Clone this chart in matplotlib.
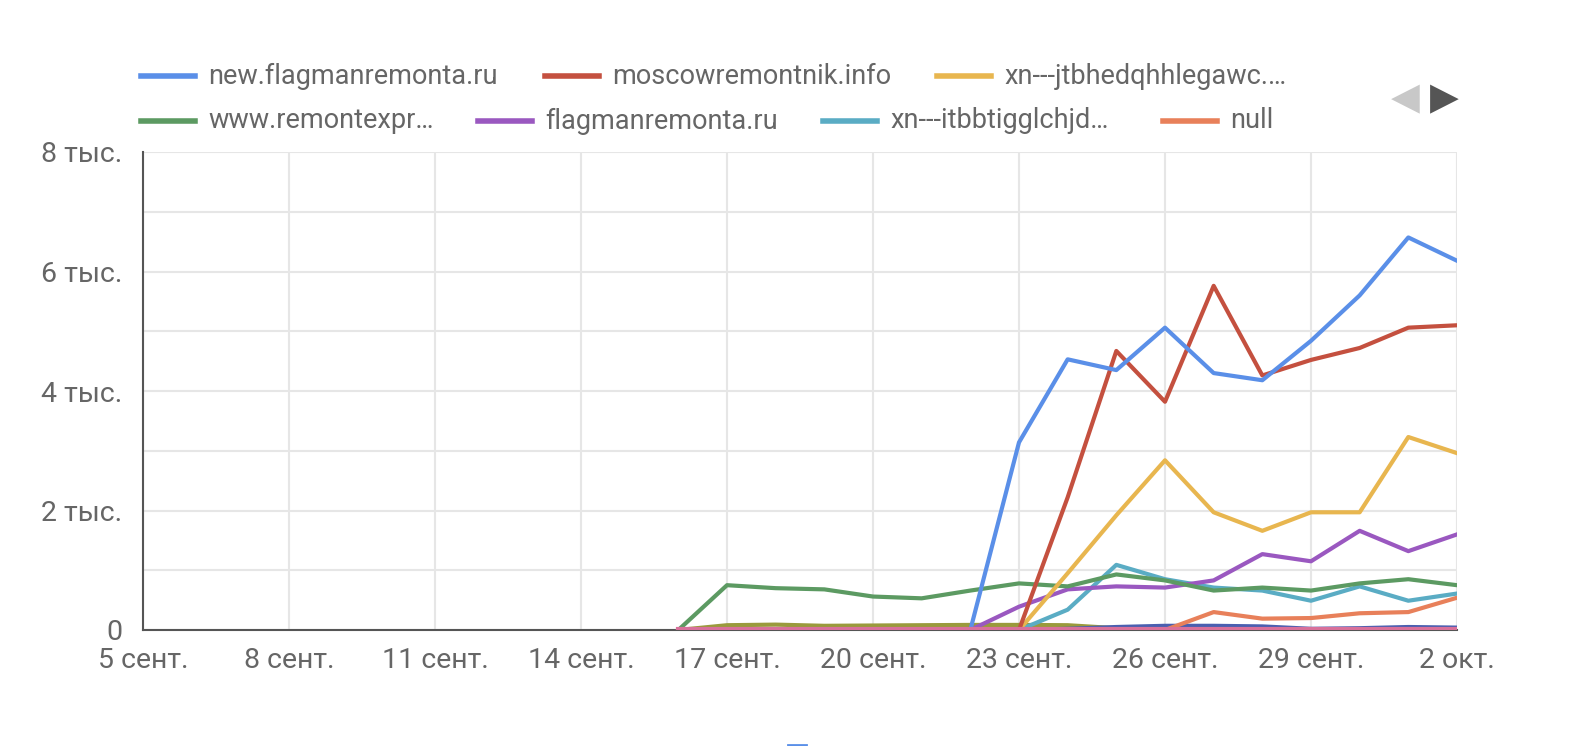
import numpy as np
import matplotlib.pyplot as plt
from matplotlib.lines import Line2D

plt.rcParams['font.family'] = ['Roboto', 'DejaVu Sans']

# дни: 5 сент. = 0 ... 2 окт. = 27; данные с 16 сент. (день 11)
days = np.arange(11, 28)
tick_days = [0, 3, 6, 9, 12, 15, 18, 21, 24, 27]
tick_labels = ['5 сент.', '8 сент.', '11 сент.', '14 сент.', '17 сент.',
               '20 сент.', '23 сент.', '26 сент.', '29 сент.', '2 окт.']
y_ticks = [0, 2000, 4000, 6000, 8000]
y_labels = ['0', '2 тыс.', '4 тыс.', '6 тыс.', '8 тыс.']

names = ['new.flagmanremonta.ru', 'moscowremontnik.info', 'xn---jtbhedqhhlegawc.…',
         'www.remontexpr…', 'flagmanremonta.ru', 'xn---itbbtigglchjd…', 'null']
colors = ['#5a8fe8', '#c4503f', '#e8b64f', '#5c9a62', '#9a58c0', '#5aacc4', '#e8805a']

new_flagman = [0, 0, 0, 0, 0, 0, 0, 3140, 4530, 4350, 5060, 4300, 4180, 4840, 5600, 6570, 6180]
moscow = [0, 0, 0, 0, 0, 0, 0, 0, 2220, 4670, 3820, 5760, 4260, 4520, 4720, 5060, 5100]
xn_jtb = [0, 0, 0, 0, 0, 0, 0, 0, 950, 1920, 2840, 1970, 1660, 1970, 1970, 3230, 2960]
remontexpr = [0, 750, 700, 680, 560, 530, 660, 780, 730, 930, 830, 660, 710, 660, 780, 850, 750]
flagman = [0, 0, 0, 0, 0, 0, 0, 390, 680, 730, 710, 830, 1270, 1150, 1660, 1320, 1600]
xn_itb = [0, 0, 0, 0, 0, 0, 0, 0, 340, 1090, 850, 710, 660, 490, 730, 490, 610]
null = [0, 0, 0, 0, 0, 0, 0, 0, 0, 0, 0, 300, 190, 200, 280, 300, 540]
# серии со второй страницы легенды
extra_olive = [0, 80, 90, 70, 75, 80, 85, 85, 80, 30, 0, 0, 0, 0, 0, 0, 0]
extra_navy = [0, 0, 0, 0, 0, 0, 0, 0, 20, 50, 70, 70, 60, 20, 30, 50, 40]
extra_pink = [10] * 17

series = [new_flagman, moscow, xn_jtb, remontexpr, flagman, xn_itb, null]

fig = plt.figure(figsize=(15.9, 7.46), dpi=100)
ax = fig.add_axes([143 / 1590, 1 - 630 / 746, (1457 - 143) / 1590, (630 - 152) / 746])

ax.plot(days, extra_olive, color='#9a9a3c', lw=3, zorder=2)
ax.plot(days, extra_navy, color='#4a5fb0', lw=3, zorder=2)
for s, c in zip(series[::-1], colors[::-1]):
    ax.plot(days, s, color=c, lw=3, zorder=3)
ax.plot(days, extra_pink, color='#d8709a', lw=3, zorder=3)

ax.set_xlim(0, 27)
ax.set_ylim(0, 8000)
ax.set_xticks(tick_days)
ax.set_xticklabels(tick_labels)
ax.set_yticks(y_ticks)
ax.set_yticklabels(y_labels)
ax.set_yticks(np.arange(0, 8001, 1000), minor=True)
ax.grid(True, which='both', axis='y', color='#e6e6e6', lw=1.5)
ax.grid(True, which='major', axis='x', color='#e6e6e6', lw=1.5)
ax.tick_params(length=0, labelsize=20.5, labelcolor='#666666', which='both')
ax.tick_params(axis='x', pad=12)
ax.tick_params(axis='y', pad=15)
for sp in ['top', 'right']:
    ax.spines[sp].set_visible(False)
for sp in ['left', 'bottom']:
    ax.spines[sp].set_color('#555555')
    ax.spines[sp].set_linewidth(1.5)
ax.set_axisbelow(True)

# легенда в стиле Google
leg_pos = [(141, 76), (545, 76), (937, 76), (141, 121), (478, 121), (823, 121), (1163, 121)]
for (lx, ly), name, c in zip(leg_pos, names, colors):
    fy = 1 - ly / 746
    fig.add_artist(Line2D([lx / 1590, (lx + 54) / 1590], [fy, fy], color=c, lw=4))
    fig.text((lx + 67) / 1590, fy, name, fontsize=19.5, color='#666666', va='center')

fig.text(1405 / 1590, 1 - 99 / 746, '◀', fontsize=27, color='#c8c8c8', ha='center', va='center',
         family=['DejaVu Sans'])
fig.text(1444 / 1590, 1 - 99 / 746, '▶', fontsize=27, color='#555555', ha='center', va='center',
         family=['DejaVu Sans'])
# обрезанный фрагмент внизу
fig.add_artist(Line2D([788 / 1590, 806 / 1590], [1.5 / 746, 1.5 / 746], color='#5a8fe8', lw=2))

fig.savefig('out.png', dpi=100, facecolor='white')
